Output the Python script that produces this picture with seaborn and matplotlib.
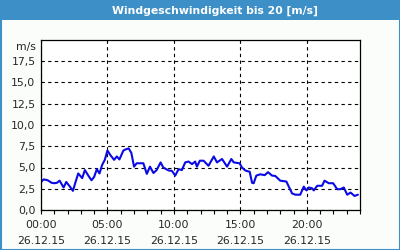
import matplotlib
matplotlib.use("Agg")
import matplotlib.pyplot as plt
import matplotlib.patches as mpatches
from matplotlib.ticker import MultipleLocator, FixedLocator
import seaborn as sns
import pandas as pd

title = "Windgeschwindigkeit bis 20 [m/s]"
unit_label = "m/s"
x_tick_hours = [0, 5, 10, 15, 20]
x_tick_labels = ["00:00\n26.12.15", "05:00\n26.12.15", "10:00\n26.12.15",
                 "15:00\n26.12.15", "20:00\n26.12.15"]
y_ticks = [0, 2.5, 5.0, 7.5, 10.0, 12.5, 15.0, 17.5]
y_tick_labels = ["0,0", "2,5", "5,0", "7,5", "10,0", "12,5", "15,0", "17,5"]

hours = [0.0, 0.2, 0.5, 0.8, 1.0, 1.2, 1.4, 1.7, 1.9, 2.2, 2.4, 2.6, 2.8, 3.1,
         3.3, 3.6, 3.8, 4.0, 4.2, 4.4, 4.6, 4.8, 5.0, 5.2, 5.5, 5.7, 5.9, 6.2,
         6.4, 6.6, 6.8, 7.0, 7.2, 7.7, 7.96, 8.2, 8.46, 8.7, 9.0, 9.2, 9.6,
         9.85, 10.1, 10.35, 10.6, 10.85, 11.1, 11.36, 11.6, 11.73, 11.95,
         12.23, 12.6, 13.0, 13.24, 13.62, 14.0, 14.32, 14.5, 14.94, 15.12,
         15.37, 15.7, 15.88, 16.0, 16.2, 16.5, 16.83, 17.08, 17.38, 17.63,
         18.0, 18.46, 18.89, 19.14, 19.5, 19.77, 19.97, 20.15, 20.4, 20.52,
         20.78, 21.15, 21.33, 21.65, 21.98, 22.28, 22.53, 22.78, 23.04,
         23.29, 23.59, 23.84]
speed = [3.3, 3.6, 3.5, 3.2, 3.15, 3.2, 3.45, 2.65, 3.3, 2.7, 2.25, 3.3, 4.3,
         3.75, 4.7, 3.95, 3.5, 3.9, 4.8, 4.3, 5.3, 5.9, 7.0, 6.5, 5.9, 6.3,
         5.95, 7.0, 7.15, 7.25, 6.7, 5.1, 5.5, 5.5, 4.25, 5.1, 4.35, 4.7,
         5.6, 5.0, 4.65, 4.6, 4.05, 4.8, 4.7, 5.6, 5.7, 5.4, 5.7, 5.1, 5.8,
         5.8, 5.2, 6.3, 5.6, 6.0, 5.1, 6.0, 5.6, 5.5, 5.0, 4.65, 4.5, 3.2,
         3.15, 4.05, 4.2, 4.1, 4.45, 4.05, 4.0, 3.45, 3.35, 1.95, 1.8, 1.8,
         2.75, 2.3, 2.65, 2.55, 2.3, 2.85, 2.85, 3.45, 3.15, 3.15, 2.45,
         2.45, 2.65, 1.8, 2.05, 1.65, 1.8]

df = pd.DataFrame({"h": hours, "v": speed})

sns.set_style("white")
plt.rcParams["font.family"] = ["DejaVu Sans"]

BLUE = "#3d8fc7"
fig = plt.figure(figsize=(4, 2.5), dpi=100)
fig.patch.set_facecolor("#fafdfa")

# title bar
fig.patches.append(mpatches.Rectangle((0, 230 / 250), 1, 20 / 250, transform=fig.transFigure,
                                      facecolor=BLUE, edgecolor="none", zorder=0))
fig.patches.append(mpatches.Rectangle((0.5 / 400, 0.5 / 250), 399 / 400, 249 / 250,
                                      transform=fig.transFigure, facecolor="none",
                                      edgecolor=BLUE, linewidth=1.5, zorder=5))
fig.text(215 / 400, 1 - 10.5 / 250, title, color="white", fontsize=7.8, fontweight="bold",
         ha="center", va="center")

ax = fig.add_axes([41 / 400, 40 / 250, 319 / 400, 170 / 250])
ax.set_facecolor("white")
sns.lineplot(data=df, x="h", y="v", ax=ax, color="#0a0ae6", linewidth=1.5)

ax.set_xlim(0, 24)
ax.set_ylim(0, 20)
ax.xaxis.set_major_locator(FixedLocator(x_tick_hours))
ax.set_xticklabels(x_tick_labels, fontsize=7.8, linespacing=1.65)
ax.xaxis.set_minor_locator(MultipleLocator(1))
ax.set_yticks(y_ticks)
ax.set_yticklabels(y_tick_labels, fontsize=7.8)
ax.tick_params(axis="x", which="both", direction="out", length=3, width=0.8,
               color="black", pad=4.5, bottom=True)
ax.tick_params(axis="y", length=0, pad=4)
ax.set_xlabel("")
ax.set_ylabel("")
ax.grid(True, color="black", linestyle=(0, (3, 3)), linewidth=0.8)
for s in ax.spines.values():
    s.set_color("black")
    s.set_linewidth(0.9)
ax.text(-0.015, 1 - 7 / 170, unit_label, transform=ax.transAxes, ha="right", va="center",
        fontsize=7.8)

fig.savefig("out.png", dpi=100, facecolor=fig.get_facecolor())
